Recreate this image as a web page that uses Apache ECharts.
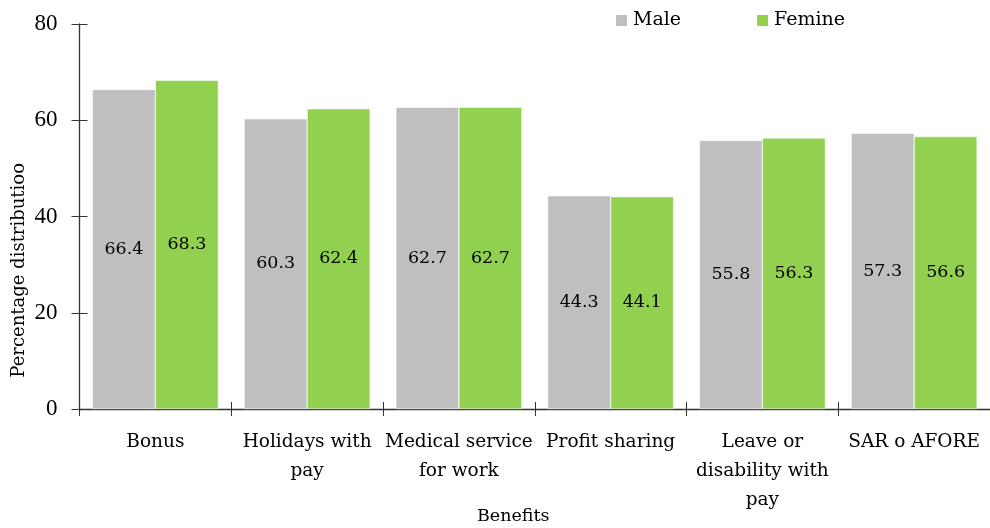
<!DOCTYPE html>
<html>
<head>
<meta charset="utf-8">
<script src="https://cdn.jsdelivr.net/npm/echarts@6/dist/echarts.min.js"></script>
<style>
html,body{margin:0;padding:0;background:#fff;}
#chart{width:990px;height:528px;}
</style>
</head>
<body>
<div id="chart"></div>
<script>
// categories
var categories = ['Bonus', 'Holidays with\npay', 'Medical service\nfor work', 'Profit sharing', 'Leave or\ndisability with\npay', 'SAR o AFORE'];
// series values
var maleValues = [66.4, 60.3, 62.7, 44.3, 55.8, 57.3];
var femineValues = [68.3, 62.4, 62.7, 44.1, 56.3, 56.6];
var seriesNames = ['Male', 'Femine'];
var yTicks = [0, 20, 40, 60, 80];

var serif = 'DejaVu Serif';
var myChart = echarts.init(document.getElementById('chart'));

var option = {
	animation: false,
	textStyle: { fontFamily: serif },
	legend: {
		left: 614,
		top: 11,
		padding: 0,
		itemWidth: 13,
		itemHeight: 13,
		itemGap: 74,
		icon: 'rect',
		textStyle: { fontFamily: serif, fontSize: 19, color: '#000', padding: [0, 0, 0, 0] },
		data: seriesNames
	},
	grid: { left: 79.5, width: 915, top: 24, bottom: 119, containLabel: false },
	xAxis: [{
		type: 'category',
		data: categories,
		axisLine: { lineStyle: { color: '#333', width: 1.3 } },
		axisTick: { show: true, length: 7, lineStyle: { color: '#333' } },
		axisLabel: { fontFamily: serif, fontSize: 18.5, color: '#000', lineHeight: 29, margin: 19, interval: 0 }
	}, {
		// second axis only for the upward half of the ticks
		type: 'category',
		data: categories,
		position: 'bottom',
		axisLine: { show: false },
		axisTick: { show: true, inside: true, length: 7, lineStyle: { color: '#333' } },
		axisLabel: { show: false }
	}],
	yAxis: [{
		type: 'value',
		min: 0,
		max: 80,
		interval: 20,
		splitLine: { show: false },
		axisLine: { show: true, lineStyle: { color: '#333', width: 1.3 } },
		axisTick: { show: true, length: 8, lineStyle: { color: '#333' } },
		axisLabel: {
			fontFamily: 'Liberation Serif', fontSize: 23, color: '#000', margin: 22,
			formatter: function(v) { return yTicks.indexOf(v) >= 0 ? String(v) : ''; }
		}
	}, {
		type: 'value',
		min: 0,
		max: 80,
		interval: 20,
		position: 'left',
		splitLine: { show: false },
		axisLine: { show: false },
		axisTick: { show: true, inside: true, length: 8, lineStyle: { color: '#333' } },
		axisLabel: { show: false }
	}],
	graphic: [{
		type: 'text',
		left: 10,
		top: 163,
		rotation: Math.PI / 2,
		style: { text: 'Percentage distributioo', font: '18px "DejaVu Serif"', fill: '#000' }
	}, {
		type: 'text',
		left: 477,
		top: 507,
		style: { text: 'Benefits', font: '17.5px "DejaVu Serif"', fill: '#000' }
	}],
	series: [{
		name: seriesNames[0],
		type: 'bar',
		data: maleValues,
		barGap: 0,
		barCategoryGap: '17%',
		itemStyle: { color: '#BFBFBF', borderColor: '#fff', borderWidth: 0.5 },
		label: { show: true, position: 'inside', fontFamily: serif, fontSize: 17.5, color: '#000' }
	}, {
		name: seriesNames[1],
		type: 'bar',
		data: femineValues,
		barGap: 0,
		barCategoryGap: '17%',
		itemStyle: { color: '#92D050', borderColor: '#fff', borderWidth: 0.5 },
		label: { show: true, position: 'inside', fontFamily: serif, fontSize: 17.5, color: '#000' }
	}]
};
myChart.setOption(option, true);
</script>
</body>
</html>
